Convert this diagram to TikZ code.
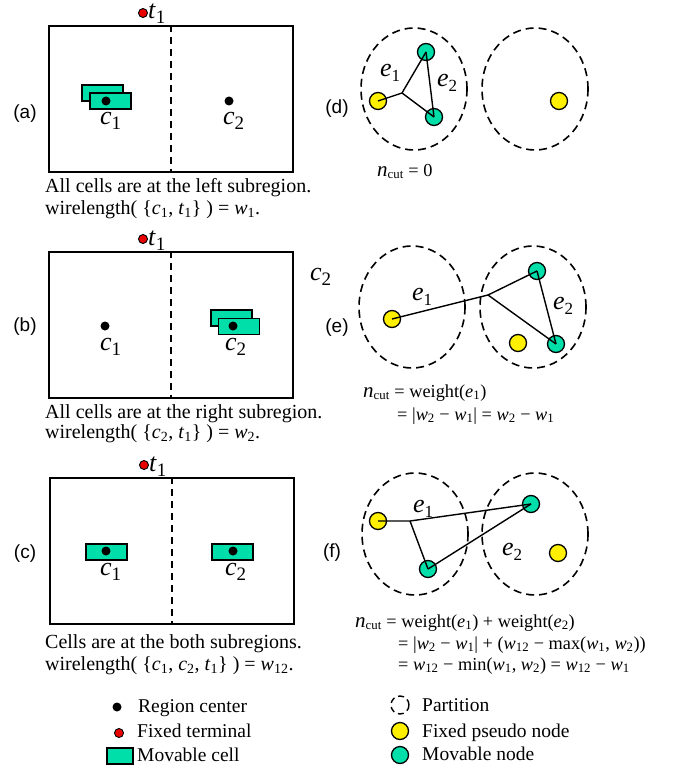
\documentclass[tikz,border=0pt]{standalone}
\usepackage{fontspec}
\setmainfont{Liberation Serif}
\newfontfamily\lsans{Liberation Sans}
\usetikzlibrary{shapes.geometric}
\definecolor{mint}{RGB}{0,222,170}
\definecolor{ylw}{RGB}{255,240,0}
\definecolor{tred}{RGB}{235,0,0}
\newcommand\vs[2]{\textit{#1}\textsubscript{#2}}
\newcommand\nc{{\fontsize{21}{21}\selectfont\textit{n}}\textsubscript{cut}}
\newcommand\lc[2]{{\fontsize{26}{26}\selectfont\textit{#1}}\raisebox{-5pt}{\fontsize{19}{19}\selectfont #2}}
\newcommand\elab[2]{{\fontsize{26}{26}\selectfont\textit{#1}}\raisebox{-5pt}{\fontsize{17}{17}\selectfont #2}}
\begin{document}
\begin{tikzpicture}[x=1pt,y=-1pt,
  region/.style={draw, line width=1.6pt, minimum width=244pt, minimum height=146pt, inner sep=0pt},
  divider/.style={line width=1.6pt, dash pattern=on 7pt off 5pt},
  centerdot/.style={circle, fill=black, inner sep=0pt, minimum size=9pt},
  termdot/.style={circle, fill=tred, draw=black, line width=0.9pt, inner sep=0pt, minimum size=9pt},
  cellbox/.style={rectangle, fill=mint, draw=black, line width=1.4pt, minimum width=41pt, minimum height=16pt, inner sep=0pt},
  ynode/.style={circle, fill=ylw, draw=black, line width=1.3pt, inner sep=0pt, minimum size=17pt},
  gnode/.style={circle, fill=mint, draw=black, line width=1.3pt, inner sep=0pt, minimum size=17pt},
  partition/.style={ellipse, draw, line width=1.6pt, dash pattern=on 8pt off 5pt, minimum width=106pt, minimum height=122pt, inner sep=0pt},
  edge/.style={line width=1.4pt},
  plabel/.style={font=\lsans\fontsize{19}{19}\selectfont, anchor=base, inner sep=0pt},
  txt/.style={font=\fontsize{20}{22}\selectfont, anchor=base west, inner sep=0pt},
  ftxt/.style={font=\fontsize{18.3}{20}\selectfont, anchor=base west, inner sep=0pt},
  lgd/.style={font=\fontsize{19.5}{20}\selectfont, anchor=base west, inner sep=0pt},
  big/.style={anchor=base west, inner sep=0pt}
]
\useasboundingbox (0,0) rectangle (675,770);

% ---------- (a)
\node[plabel] (la) at (25,119) {(a)};
\node[region] (RA) at (171,99) {};
\draw[divider] (RA.north) -- (RA.south);
\node[termdot] (TA) at (143,13) {};
\node[big] (TAl) at (148,19) {\lc{t}{1}};
\node[cellbox] (CA1) at (102.5,93) {};
\node[cellbox] (CA2) at (110.5,101) {};
\node[centerdot] (DA1) at (106,101) {};
\node[centerdot] (DA2) at (229,101) {};
\node[big] (cA1) at (100,125) {\lc{c}{1}};
\node[big] (cA2) at (223,125) {\lc{c}{2}};
\node[txt] (xA1) at (45,193) {All cells are at the left subregion.};
\node[txt] (xA2) at (45,214) {wirelength( \{\vs{c}{1}, \vs{t}{1}\} ) = \vs{w}{1}.};

% ---------- (b)
\node[plabel] (lb) at (25,331) {(b)};
\node[region] (RB) at (171,325) {};
\draw[divider] (RB.north) -- (RB.south);
\node[termdot] (TB) at (143,239) {};
\node[big] (TBl) at (148,245) {\lc{t}{1}};
\node[centerdot] (DB1) at (105,326) {};
\node[cellbox] (CB1) at (231.5,318) {};
\node[cellbox] (CB2) at (239,326.5) {};
\node[centerdot] (DB2) at (233,326) {};
\node[big] (cB1) at (100,350) {\lc{c}{1}};
\node[big] (cB2) at (225,350) {\lc{c}{2}};
\node[big] (cBx) at (310,280) {\lc{c}{2}};
\node[txt] (xB1) at (45,418) {All cells are at the right subregion.};
\node[txt] (xB2) at (45,438) {wirelength( \{\vs{c}{2}, \vs{t}{1}\} ) = \vs{w}{2}.};

% ---------- (c)
\node[plabel] (lc) at (25,558) {(c)};
\node[region] (RC) at (172,551) {};
\draw[divider] (RC.north) -- (RC.south);
\node[termdot] (TC) at (144,465) {};
\node[big] (TCl) at (149,471) {\lc{t}{1}};
\node[cellbox] (CC1) at (106.5,552) {};
\node[cellbox] (CC2) at (232.5,552) {};
\node[centerdot] (DC1) at (106,551) {};
\node[centerdot] (DC2) at (233,551) {};
\node[big] (cC1) at (100,575) {\lc{c}{1}};
\node[big] (cC2) at (225,575) {\lc{c}{2}};
\node[txt] (xC1) at (45,648) {Cells are at the both subregions.};
\node[txt] (xC2) at (45,670) {wirelength( \{\vs{c}{1}, \vs{c}{2}, \vs{t}{1}\} ) = \vs{w}{12}.};

% ---------- left legend
\node[centerdot] (LG1) at (117,707) {};
\node[lgd] (LG1t) at (138,712) {Region center};
\node[termdot] (LG2) at (119,733) {};
\node[lgd] (LG2t) at (137,737) {Fixed terminal};
\node[cellbox, minimum width=26pt, minimum height=16pt] (LG3) at (120,756) {};
\node[lgd] (LG3t) at (137,761) {Movable cell};

% ---------- (d)
\node[plabel] (ld) at (337,114) {(d)};
\node[partition] (PD1) at (414,89) {};
\node[partition] (PD2) at (535,89) {};
\node[ynode] (YD1) at (378,101) {};
\node[gnode] (GD1) at (426,52) {};
\node[gnode] (GD2) at (434,117) {};
\node[ynode] (YD2) at (559,101) {};
\coordinate (JD) at (402,93);
\draw[edge] (YD1.center) -- (JD) -- (GD1.center);
\draw[edge] (JD) -- (GD2.center);
\draw[edge] (GD1.center) -- (GD2.center);
\node[big] (eD1) at (380,77) {\elab{e}{1}};
\node[big] (eD2) at (437,87) {\elab{e}{2}};
\node[ftxt] (nD) at (377,176) {\nc{} = 0};

% ---------- (e)
\node[plabel] (le) at (337,332) {(e)};
\node[partition] (PE1) at (412,307) {};
\node[partition] (PE2) at (533,307) {};
\node[ynode] (YE1) at (392,319) {};
\node[gnode] (GE1) at (537,271) {};
\node[gnode] (GE2) at (556,344) {};
\node[ynode] (YE2) at (518,343) {};
\coordinate (JE) at (488,295);
\draw[edge] (YE1.center) -- (JE) -- (GE1.center);
\draw[edge] (JE) -- (GE2.center);
\draw[edge] (GE1.center) -- (GE2.center);
\node[big] (eE1) at (412,300) {\elab{e}{1}};
\node[big] (eE2) at (553,309) {\elab{e}{2}};
\node[ftxt] (nE1) at (363,397) {\nc{} = weight(\vs{e}{1})};
\node[ftxt] (nE2) at (397,420) {= |\vs{w}{2} − \vs{w}{1}| = \vs{w}{2} − \vs{w}{1}};

% ---------- (f)
\node[plabel] (lf) at (332,557) {(f)};
\node[partition] (PF1) at (415,534) {};
\node[partition] (PF2) at (535,534) {};
\node[ynode] (YF1) at (378,521) {};
\node[gnode] (GF1) at (531,504) {};
\node[gnode] (GF2) at (428,569) {};
\node[ynode] (YF2) at (558,553) {};
\coordinate (JF) at (410,521);
\draw[edge] (YF1.center) -- (JF) -- (GF1.center);
\draw[edge] (JF) -- (GF2.center);
\draw[edge] (GF2.center) -- (GF1.center);
\node[big] (eF1) at (413,512) {\elab{e}{1}};
\node[big] (eF2) at (502,555) {\elab{e}{2}};
\node[ftxt] (nF1) at (355,627) {\nc{} = weight(\vs{e}{1}) + weight(\vs{e}{2})};
\node[ftxt] (nF2) at (398,649) {= |\vs{w}{2} − \vs{w}{1}| + (\vs{w}{12} − max(\vs{w}{1}, \vs{w}{2}))};
\node[ftxt] (nF3) at (398,670) {= \vs{w}{12} − min(\vs{w}{1}, \vs{w}{2}) = \vs{w}{12} − \vs{w}{1}};

% ---------- right legend
\node[circle, draw, line width=1.4pt, dash pattern=on 6pt off 4pt, minimum size=18pt, inner sep=0pt] (LR1) at (400,705) {};
\node[lgd] (LR1t) at (422,711) {Partition};
\node[ynode] (LR2) at (400,731) {};
\node[lgd] (LR2t) at (422,737) {Fixed pseudo node};
\node[gnode] (LR3) at (400,755) {};
\node[lgd] (LR3t) at (422,760) {Movable node};
\end{tikzpicture}
\end{document}
